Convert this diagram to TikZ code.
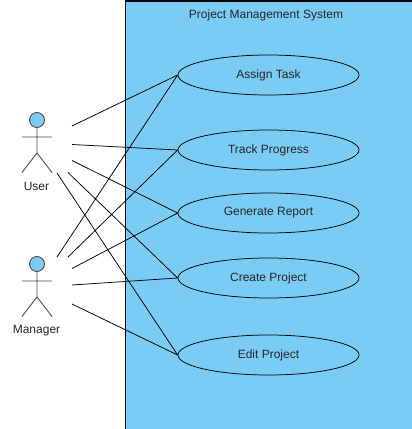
\documentclass[tikz,border=0pt]{standalone}
\usepackage{fontspec}
\setmainfont{Liberation Sans}
\usetikzlibrary{shapes.geometric}
\definecolor{sysblue}{HTML}{7ACCF5}
\tikzset{x=1pt,y=-1pt,
 usecase/.style={ellipse,draw=black,line width=0.75pt,fill=sysblue,minimum width=181pt,minimum height=40pt,inner sep=0pt,font=\fontsize{12}{14}\selectfont,text=black!85},
 lbl/.style={font=\fontsize{12}{14}\selectfont,text=black!85,inner sep=0pt},
 conn/.style={draw=black,line width=0.75pt},
 limb/.style={draw=black!70,line width=0.9pt}}
\begin{document}
\begin{tikzpicture}
\useasboundingbox (0,0) rectangle (412,429);
\fill[white] (0,0) rectangle (412,429);
\fill[sysblue] (125.5,1) rectangle (412,429);
\draw[black,line width=1.1pt] (125.5,429) -- (125.5,1) -- (412,1);
\node[lbl] (title) at (266,15) {Project Management System};
\node[usecase] (a) at (268.5,75) {Assign Task};
\node[usecase] (t) at (268.5,150) {Track Progress};
\node[usecase] (g) at (268.5,213) {Generate Report};
\node[usecase] (c) at (268.5,278) {Create Project};
\node[usecase] (e) at (268.5,355) {Edit Project};
% User
\draw[limb,fill=sysblue] (37,120) circle (7.5);
\draw[limb] (37,127.5) -- (37,153) (22,137) -- (52,137) (22,172.5) -- (37,153) -- (52,172.5);
\node[lbl] (user) at (36.5,186.5) {User};
% Manager
\draw[limb,fill=sysblue] (37,264) circle (7.5);
\draw[limb] (37,271.5) -- (37,297) (22,281) -- (52,281) (22,316.5) -- (37,297) -- (52,316.5);
\node[lbl] (manager) at (36.5,331) {Manager};
% free ends
\coordinate (u1) at (72,126); \coordinate (u2) at (72,144.5); \coordinate (u3) at (72,160.5);
\coordinate (u4) at (68,172.5); \coordinate (u5) at (57,173);
\coordinate (m1) at (57,257); \coordinate (m2) at (68,257); \coordinate (m3) at (72,268.5);
\coordinate (m4) at (72,285); \coordinate (m5) at (72,304);
\draw[conn] (u1) -- (a.west) (u2) -- (t.west) (u3) -- (g.west) (u4) -- (c.west) (u5) -- (e.west)
 (m1) -- (a.west) (m2) -- (t.west) (m3) -- (g.west) (m4) -- (c.west) (m5) -- (e.west);
\end{tikzpicture}
\end{document}
